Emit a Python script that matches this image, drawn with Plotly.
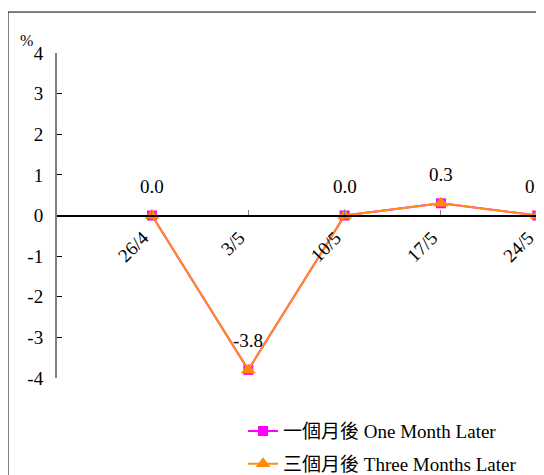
import plotly.graph_objects as go

weeks = ["26/4", "3/5", "10/5", "17/5", "24/5"]
one_month = [0.0, -3.8, 0.0, 0.3, 0.0]
three_months = [0.0, -3.8, 0.0, 0.3, 0.0]
labels = ["0.0", "-3.8", "0.0", "0.3", "0.0"]
y_ticks = [-4, -3, -2, -1, 0, 1, 2, 3, 4]
y_tick_text = ["-4", "-3", "-2", "-1", "0", "1", "2", "3", "4"]

font = "Liberation Serif, Times New Roman, Noto Sans CJK TC, serif"

fig = go.Figure()
fig.add_trace(go.Scatter(
    x=weeks, y=one_month, mode="lines+markers",
    name="一個月後 One Month Later", legendgroup="a",
    line=dict(color="#ff00ff", width=2),
    marker=dict(symbol="square", size=10, color="#ff00ff"),
))
fig.add_trace(go.Scatter(
    x=weeks, y=three_months, mode="lines+markers",
    name="三個月後 Three Months Later", legendgroup="b",
    line=dict(color="#ff8c1a", width=2),
    marker=dict(symbol="triangle-up", size=13, color="#ff8c00"),
))

for w, v, t in zip(weeks, three_months, labels):
    fig.add_annotation(x=w, y=v, text=t, showarrow=False, yshift=29,
                       font=dict(size=19, color="black", family=font))

fig.add_annotation(x=-0.08, y=1.071, xref="paper", yref="paper", text="%",
                   showarrow=False, font=dict(size=16, color="black", family=font))

# outer frame
fig.add_shape(type="rect", xref="paper", yref="paper",
              x0=-0.1006, x1=1.05, y0=-0.4, y1=1.126,
              line=dict(color="black", width=1))

fig.update_layout(
    width=536, height=467,
    margin=dict(l=49, r=0, t=45, b=97, autoexpand=False),
    plot_bgcolor="white", paper_bgcolor="white",
    font=dict(family=font, size=19, color="black"),
    showlegend=True,
    legend=dict(x=0.382, y=-0.105, xanchor="left", yanchor="top",
                tracegroupgap=5, traceorder="grouped",
                font=dict(size=19, family=font, color="black"),
                bgcolor="rgba(0,0,0,0)"),
    xaxis=dict(
        type="category", range=[-0.986, 4.07],
        anchor="free", position=0.5,
        showline=True, linecolor="black", linewidth=1.5,
        ticks="inside", ticklen=5, tickcolor="#808080",
        tickangle=-45, showgrid=False, zeroline=False,
        ticklabelshift=-9, ticklabelstandoff=3,
        tickfont=dict(size=19, family=font),
    ),
    yaxis=dict(
        range=[-4, 4], tickmode="array", tickvals=y_ticks, ticktext=y_tick_text,
        showgrid=False, zeroline=False,
        showline=True, linecolor="#808080", linewidth=2,
        ticks="inside", ticklen=5, tickcolor="black",
        ticklabelstandoff=8,
        tickfont=dict(size=19, family=font),
    ),
)

fig.write_html("out.html")
